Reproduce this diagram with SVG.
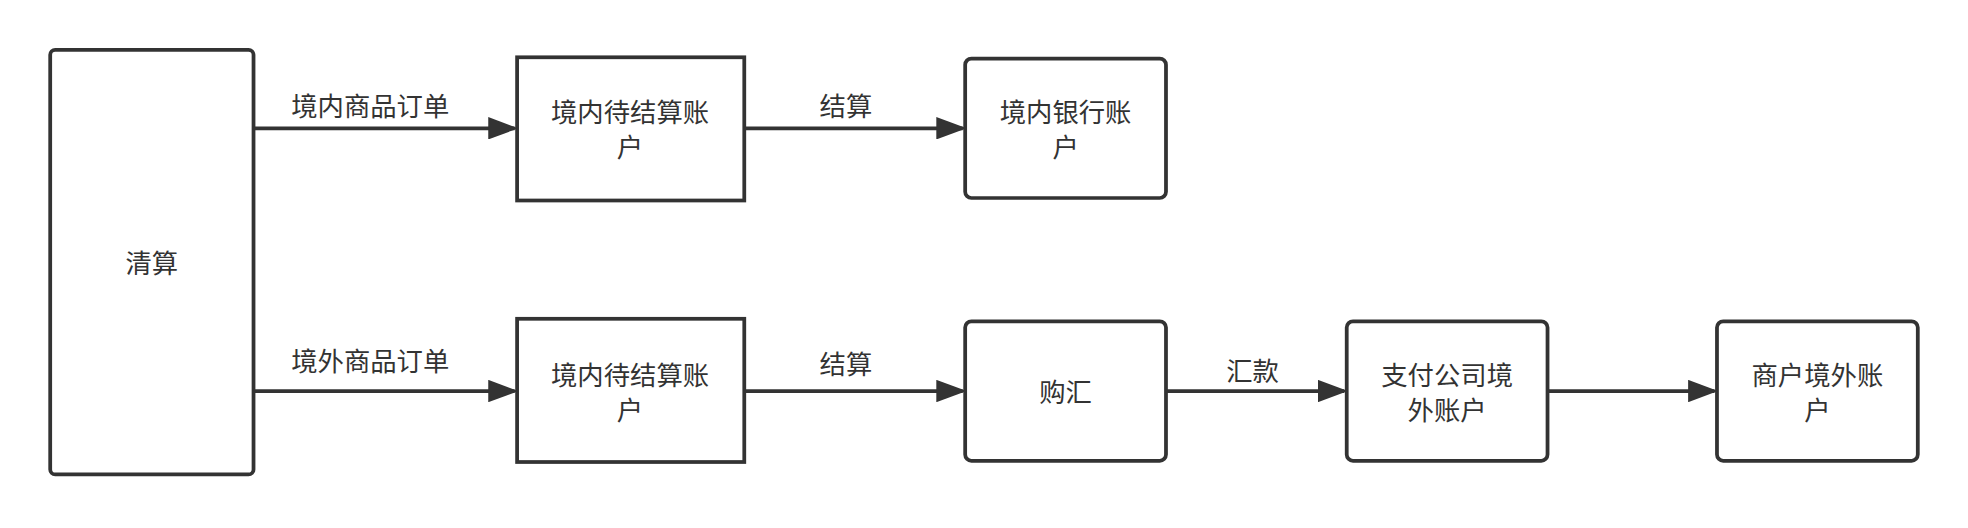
<svg xmlns="http://www.w3.org/2000/svg" width="1968" height="528" viewBox="0 0 1968 528">
<style>
.n{fill:#fff;stroke:#333;stroke-width:3}
.t{font-family:"Noto Sans CJK SC",sans-serif;font-size:21px;fill:#333;text-anchor:middle}
.c{stroke:#333;stroke-width:3;fill:none;marker-end:url(#a)}
</style>
<defs><marker id="a" markerWidth="8" markerHeight="6" refX="7" refY="3" orient="auto" markerUnits="strokeWidth"><path d="M0,0 L8,3 L0,6 Z" fill="#333"/></marker></defs>
<rect width="1968" height="528" fill="#fff"/>
<g transform="scale(1.2551,1.2453)">
<g id="connectors">
<path class="c" d="M202,103 H410"/>
<path class="c" d="M593,103 H767"/>
<path class="c" d="M202,314 H410"/>
<path class="c" d="M593,314 H767"/>
<path class="c" d="M929,314 H1071"/>
<path class="c" d="M1233,314 H1366"/>
<text class="t" x="295" y="93">境内商品订单</text>
<text class="t" x="674" y="93">结算</text>
<text class="t" x="295" y="298">境外商品订单</text>
<text class="t" x="674" y="300">结算</text>
<text class="t" x="998" y="306">汇款</text>
</g>
<g id="qs"><rect class="n" x="40" y="40" width="162" height="341" rx="4"/><text class="t" x="121" y="219">清算</text></g>
<g id="a1"><rect class="n" x="412" y="46" width="181" height="115"/><text class="t" x="502" y="98">境内待结算账</text><text class="t" x="502" y="126">户</text></g>
<g id="a2"><rect class="n" x="769" y="47" width="160" height="112" rx="5"/><text class="t" x="849" y="98">境内银行账</text><text class="t" x="849" y="126">户</text></g>
<g id="b1"><rect class="n" x="412" y="256" width="181" height="115"/><text class="t" x="502" y="309">境内待结算账</text><text class="t" x="502" y="337">户</text></g>
<g id="b2"><rect class="n" x="769" y="258" width="160" height="112" rx="5"/><text class="t" x="849" y="323">购汇</text></g>
<g id="b3"><rect class="n" x="1073" y="258" width="160" height="112" rx="5"/><text class="t" x="1153" y="309">支付公司境</text><text class="t" x="1153" y="337">外账户</text></g>
<g id="b4"><rect class="n" x="1368" y="258" width="160" height="112" rx="5"/><text class="t" x="1448" y="309">商户境外账</text><text class="t" x="1448" y="337">户</text></g>
</g>
</svg>
